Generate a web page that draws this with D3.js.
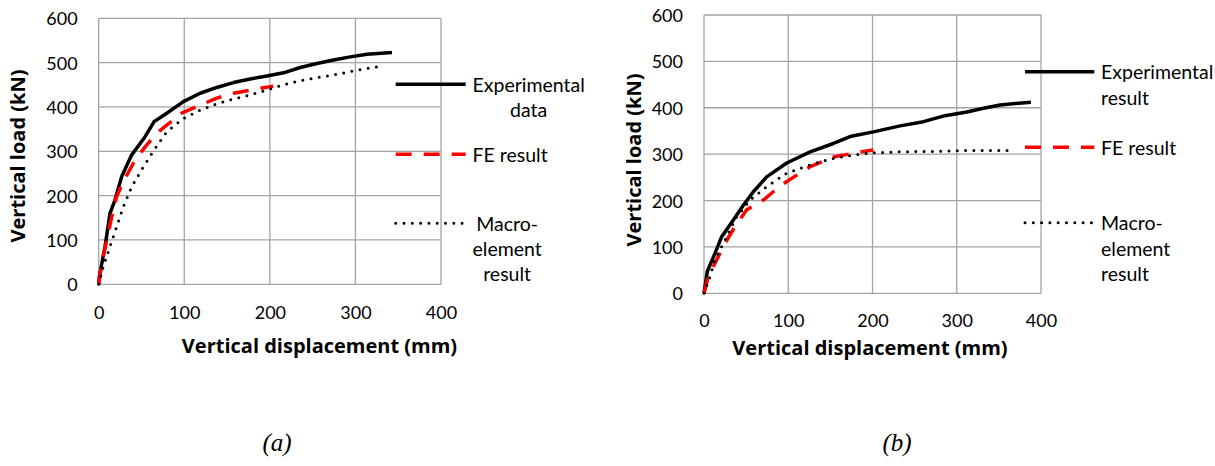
<!DOCTYPE html>
<html>
<head>
<meta charset="utf-8">
<script src="https://cdn.jsdelivr.net/npm/d3@7"></script>
<style>
  html, body { margin: 0; padding: 0; background: #fff; }
  svg { display: block; }
  text { fill: #000; }
</style>
</head>
<body>
<svg id="chart" width="1215" height="466"></svg>
<script>
// ---------- data ----------
const xTicks = [0, 100, 200, 300, 400];
const yTicks = [0, 100, 200, 300, 400, 500, 600];
const xTitle = "Vertical displacement (mm)";
const yTitle = "Vertical load (kN)";

// panel (a)
const expA = [[0,0],[0.7,17],[7.4,85],[13.2,160],[19,190],[26.9,243],[38.6,292],[54.2,333],[64.7,367],[79.5,386],[99,412],[118.5,431],[138,444],[157.5,455],[177,463],[196.5,470],[216,477],[235.5,489],[255,498],[274.4,506],[294,513],[313.5,519],[342.7,523]];
const feA = [[0,0],[3.5,47],[8.6,92],[15.2,152],[21,198],[29.6,235],[40.5,273],[54.2,310],[67.8,341],[79.5,359],[97,386],[118.5,404],[138,420],[157.5,431],[177,438],[204,447]];
const macroA = [[0,0],[5.4,40],[13.2,85],[21,130],[28.8,175],[38.6,220],[52.2,265],[64.7,303],[79.5,344],[99,374],[118.5,393],[138,407],[157.5,418],[177,427],[196.5,438],[216,450],[235.5,459],[255,466],[274.4,472],[294,480],[313.5,487],[327,491]];
const legendA = [["Experimental", "data"], ["FE result"], ["Macro-", "element", "result"]];

// panel (b)
const expB = [[0,0],[3.9,47],[13,86],[21,122],[34.8,158],[46.7,190],[58.6,219],[74.4,251],[98.2,281],[126,305],[153.6,323],[173.4,338],[201,348],[232.8,361],[260.5,370],[286,383],[312,391],[331.7,399],[351.5,406],[388,412]];
const feB = [[0,0],[5.1,36],[13,65],[25,108],[36.8,144],[50.7,180],[70.4,201],[82.3,219],[98.2,241],[126,273],[153.6,294],[177.3,302],[201,309]];
const macroB = [[0,0],[7.1,36],[13,72],[25,115],[38.8,165],[54.6,201],[74.4,230],[98.2,259],[126,277],[153.6,291],[177.3,298],[201,303],[232.8,305],[272.5,306],[312,308],[367,308]];
const legendB = [["Experimental", "result"], ["FE result"], ["Macro-", "element", "result"]];

const captions = ["(a)", "(b)"];

// ---------- styles ----------
const gridColor = "#a3a3a3";
const sansFont = "Lato, 'Open Sans', sans-serif";
const titleFont = "'Open Sans', Lato, sans-serif";
const seriesStyles = [
  { stroke: "#000", width: 3.5, dash: null, cap: "butt" },
  { stroke: "#ff0000", width: 3.5, dash: "16 12", cap: "butt" },
  { stroke: "#000", width: 3, dash: "0 8.3", cap: "round" }
];

const svg = d3.select("#chart");

function drawPanel(p) {
  const x = d3.scaleLinear().domain([0, 400]).range([p.left, p.right]);
  const y = d3.scaleLinear().domain([0, 600]).range([p.bottom, p.top]);
  const g = svg.append("g");

  // grid
  g.append("g").selectAll("line").data(xTicks).join("line")
    .attr("x1", d => x(d)).attr("x2", d => x(d))
    .attr("y1", p.top).attr("y2", p.bottom)
    .attr("stroke", gridColor).attr("stroke-width", 1.3);
  g.append("g").selectAll("line").data(yTicks).join("line")
    .attr("x1", p.left).attr("x2", p.right)
    .attr("y1", d => y(d)).attr("y2", d => y(d))
    .attr("stroke", gridColor).attr("stroke-width", 1.3);

  // axes (labels only, no tick marks)
  const xa = g.append("g").attr("transform", `translate(0,${p.bottom})`)
    .call(d3.axisBottom(x).tickValues(xTicks).tickSize(0).tickPadding(0));
  xa.select(".domain").remove();
  xa.selectAll("text").attr("font-size", 18).style("font-family", sansFont)
    .attr("dy", null).attr("y", p.xTickY - p.bottom);

  const ya = g.append("g").attr("transform", `translate(${p.left},0)`)
    .call(d3.axisLeft(y).tickValues(yTicks).tickSize(0).tickPadding(21));
  ya.select(".domain").remove();
  ya.selectAll("text").attr("font-size", 18).style("font-family", sansFont).attr("dy", "0.36em");

  // series
  const line = d3.line().x(d => x(d[0])).y(d => y(d[1]));
  [p.series[0], p.series[1], p.series[2]].forEach((s, i) => {
    const st = seriesStyles[i];
    g.append("path").datum(s).attr("d", line)
      .attr("fill", "none").attr("stroke", st.stroke)
      .attr("stroke-width", st.width)
      .attr("stroke-linecap", st.cap).attr("stroke-linejoin", "round")
      .attr("stroke-dasharray", st.dash);
  });

  // axis titles
  g.append("text").text(xTitle)
    .attr("x", p.xTitleX).attr("y", p.xTitleY)
    .attr("text-anchor", "middle").attr("font-weight", "bold").attr("font-size", 20)
    .style("font-family", titleFont);
  g.append("text").text(yTitle)
    .attr("transform", `translate(${p.yTitleX},${p.yTitleY}) rotate(-90)`)
    .attr("text-anchor", "middle").attr("font-weight", "bold").attr("font-size", 20)
    .style("font-family", titleFont);

  // legend
  p.legend.forEach((lines, i) => {
    const ly = p.legendY[i];
    const st = seriesStyles[i];
    g.append("line").attr("x1", p.legX1).attr("x2", p.legX2)
      .attr("y1", ly).attr("y2", ly)
      .attr("stroke", st.stroke).attr("stroke-width", st.width)
      .attr("stroke-linecap", st.cap).attr("stroke-dasharray", st.dash);
    const tg = g.append("g");
    const texts = tg.selectAll("text").data(lines).join("text")
      .text(d => d).attr("font-size", 19.5).style("font-family", sansFont)
      .attr("y", (d, j) => ly + 7.5 + j * 25.3);
    if (p.legendCentered) {
      let maxW = 0;
      texts.each(function () { maxW = Math.max(maxW, this.getComputedTextLength()); });
      texts.attr("x", p.legTextX + maxW / 2).attr("text-anchor", "middle");
    } else {
      texts.attr("x", p.legTextX);
    }
  });

  // caption
  svg.append("text").text(p.caption)
    .attr("x", p.captionX).attr("y", 451)
    .attr("text-anchor", "middle")
    .style("font-family", "'Liberation Serif', 'DejaVu Serif', serif")
    .style("font-style", "italic").attr("font-size", 25);
}

drawPanel({
  left: 98.7, right: 441, top: 18.3, bottom: 284.3,
  series: [expA, feA, macroA], legend: legendA, legendCentered: true,
  legX1: 395.7, legX2: 465.7, legTextX: 472.5, legendY: [84.3, 154.3, 223.3],
  xTickY: 319, xTitleX: 319.5, xTitleY: 353,
  yTitleX: 25, yTitleY: 156, caption: captions[0], captionX: 277
});

drawPanel({
  left: 704, right: 1041, top: 15, bottom: 293.3,
  series: [expB, feB, macroB], legend: legendB, legendCentered: false,
  legX1: 1025, legX2: 1094.3, legTextX: 1101, legendY: [71.7, 147.3, 222.7],
  xTickY: 327, xTitleX: 870, xTitleY: 355,
  yTitleX: 641, yTitleY: 160, caption: captions[1], captionX: 897
});
</script>
</body>
</html>
